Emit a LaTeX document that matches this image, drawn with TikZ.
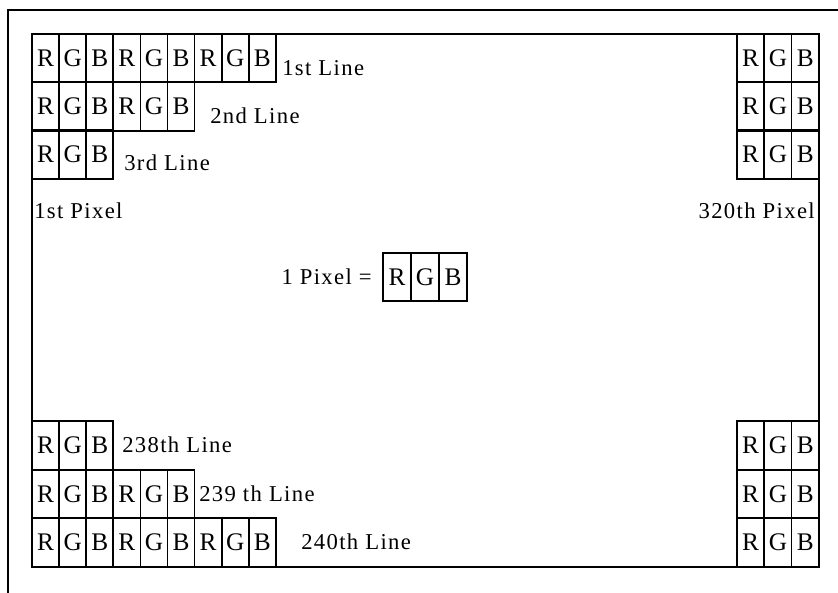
\documentclass[tikz,border=0pt]{standalone}
\usepackage{fontspec}
\setmainfont{Liberation Serif}
\newfontfamily\spaced[LetterSpace=6]{Liberation Serif}

\begin{document}
\begin{tikzpicture}[x=0.75pt, y=-0.75pt, cell/.style={draw, line width=1.3pt, minimum width=20.3pt, minimum height=36.4pt, inner sep=0pt, font=\fontsize{19}{22}\selectfont}, lbl/.style={inner sep=0pt, font=\spaced\fontsize{17}{20}\selectfont}]
            \useasboundingbox (0,0) rectangle (838,592);
            % frames
            \draw[line width=1.7pt] (8,600) -- (8,10) -- (846,10);
            \draw[line width=1.3pt] (32,34) rectangle (819,567);
            % top left lines
            \foreach \n/\r/\y in {3/a/58, 2/b/106.5, 1/c/154.5} {
                \foreach \p in {1,...,\n} {
                    \foreach \c [count=\k] in {R,G,B} {
                        \node[cell] (tl\r\p\k) at ({32+27.1*(3*\p+\k-3.5)}, \y) {\c};
                    }
                }
            }
            % bottom left lines
            \foreach \n/\r/\y in {1/a/445.5, 2/b/494, 3/c/542.5} {
                \foreach \p in {1,...,\n} {
                    \foreach \c [count=\k] in {R,G,B} {
                        \node[cell] (bl\r\p\k) at ({32+27.1*(3*\p+\k-3.5)}, \y) {\c};
                    }
                }
            }
            % right column
            \foreach \r/\y in {a/58, b/106.5, c/154.5, d/445.5, e/494, f/542.5} {
                \foreach \c [count=\k] in {R,G,B} {
                    \node[cell, minimum width=20.5pt] (rt\r\k) at ({737+27.3*(\k-0.5)}, \y) {\c};
                }
            }
            % one pixel
            \node[lbl, anchor=east] (eq) at (372,277) {1 Pixel =};
            \foreach \c [count=\k] in {R,G,B} {
                \node[cell, minimum width=21pt] (px\k) at ({383+28*(\k-0.5)}, 277) {\c};
            }
            % labels
            \node[lbl, anchor=west] (line1) at (282,68) {1st Line};
            \node[lbl, anchor=west] (line2) at (210,116) {2nd Line};
            \node[lbl, anchor=west] (line3) at (124,163) {3rd Line};
            \node[lbl, anchor=west] (pix1) at (34,211) {1st Pixel};
            \node[lbl, anchor=east] (pix320) at (815,211) {320th Pixel};
            \node[lbl, anchor=west] (line238) at (122,445) {238th Line};
            \node[lbl, anchor=west] (line239) at (199,494) {239 th Line};
            \node[lbl, anchor=west] (line240) at (301,542) {240th Line};
        \end{tikzpicture}
\end{document}
